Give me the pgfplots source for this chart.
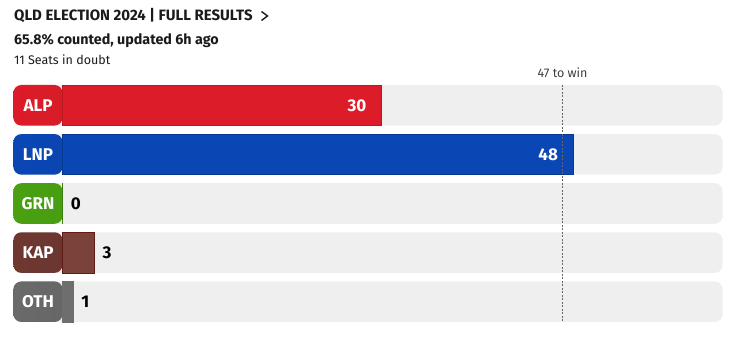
\documentclass[border=0pt]{standalone}
\usepackage{fontspec}
\setmainfont{Fira Sans}
\usepackage{pgfplots}
\pgfplotsset{compat=1.18}

\definecolor{alp}{HTML}{DC1C28}
\definecolor{alpd}{HTML}{9E1520}
\definecolor{lnp}{HTML}{0A47B5}
\definecolor{lnpd}{HTML}{062A7C}
\definecolor{grn}{HTML}{4AA012}
\definecolor{grnd}{HTML}{2C7A08}
\definecolor{kap}{HTML}{7A4238}
\definecolor{kapl}{HTML}{6E3831}
\definecolor{kapd}{HTML}{42201B}
\definecolor{oth}{HTML}{6E6E6E}
\definecolor{othl}{HTML}{6A6A6A}
\definecolor{othd}{HTML}{3A3A3A}
\definecolor{track}{HTML}{EFEFEF}
\definecolor{txt}{HTML}{1A1A1A}

\newcommand\labfont{\fontsize{17}{17}\selectfont\bfseries}
\newcommand\row[4]{%
  \begin{pgfonlayer}{axis background}
  \fill[track, rounded corners=8pt,
    path picture={\shade[left color=#2, right color=#3]
      (path picture bounding box.south west) rectangle
      ([xshift=49.2pt]path picture bounding box.north west);}]
    (axis cs:-4.62,#1-0.4134) rectangle (axis cs:62.05,#1+0.4134);
  \end{pgfonlayer}
  \node[text=white, font=\labfont, inner sep=0pt] at (axis cs:-2.30,#1) {#4};
}

\begin{document}
\begin{tikzpicture}
\begin{axis}[
  scale only axis, width=709.4pt, height=245.5pt,
  xmin=-4.62, xmax=62.05, ymin=-0.5, ymax=4.5,
  y dir=reverse, axis lines=none, clip=false,
  set layers,
  /pgf/number format/assume math mode=true,
  xbar, bar width=40.6pt, bar shift=0pt,
  inside/.style={nodes near coords, nodes near coords style={text=white, font=\labfont, anchor=east, inner sep=0pt, xshift=-15pt}},
  outside/.style={nodes near coords, nodes near coords style={text=black, font=\labfont, anchor=west, inner sep=0pt, xshift=8pt}},
]
% frame = full 754x347 picture
\path (axis cs:-5.874,-2.1446) rectangle (axis cs:64.991,4.9226);

\node[anchor=base west, inner sep=0pt, text=txt] at (axis cs:-4.558,-1.723)
  {\fontsize{15}{16}\selectfont\bfseries QLD ELECTION 2024 | FULL RESULTS};
\draw[txt, line width=1.4pt] (axis cs:18.703,-1.910) -- (axis cs:19.267,-1.819) -- (axis cs:18.703,-1.727);
\node[anchor=base west, inner sep=0pt, text=txt] at (axis cs:-4.558,-1.228)
  {\fontsize{14.3}{15}\selectfont\bfseries 65.8\% counted, updated 6h ago};
\node[anchor=base west, inner sep=0pt, text=txt] at (axis cs:-4.558,-0.8208)
  {\fontsize{12.5}{13}\selectfont 11 Seats in doubt};

\row{0}{alp}{alpd}{ALP}
\row{1}{lnp}{lnpd}{LNP}
\row{2}{grn}{grnd}{GRN}
\row{3}{kapl}{kapd}{KAP}
\row{4}{othl}{othd}{OTH}

\addplot[fill=alp, draw=alp!85!black, line width=0.6pt, inside] coordinates {(30,0)};
\addplot[fill=lnp, draw=lnp!80!black, line width=0.6pt, inside] coordinates {(48,1)};
\addplot[fill=grn, draw=grn!80!black, line width=0.6pt, outside] coordinates {(0,2)};
\addplot[fill=kap, draw=kap!70!red!60!black, line width=0.6pt, outside] coordinates {(3,3)};
\addplot[fill=oth, draw=oth, line width=0.6pt, outside] coordinates {(1,4)};

\addplot[sharp plot, draw=black!60, line width=0.9pt, dash pattern=on 2pt off 1.5pt] coordinates {(47,-0.4134) (47,4.4134)};
\node[anchor=base, inner sep=0pt, text=black!75, font=\fontsize{12.5}{13}\selectfont] at (axis cs:47,-0.5) [yshift=3.5pt] {47 to win};
\end{axis}
\end{tikzpicture}
\end{document}
